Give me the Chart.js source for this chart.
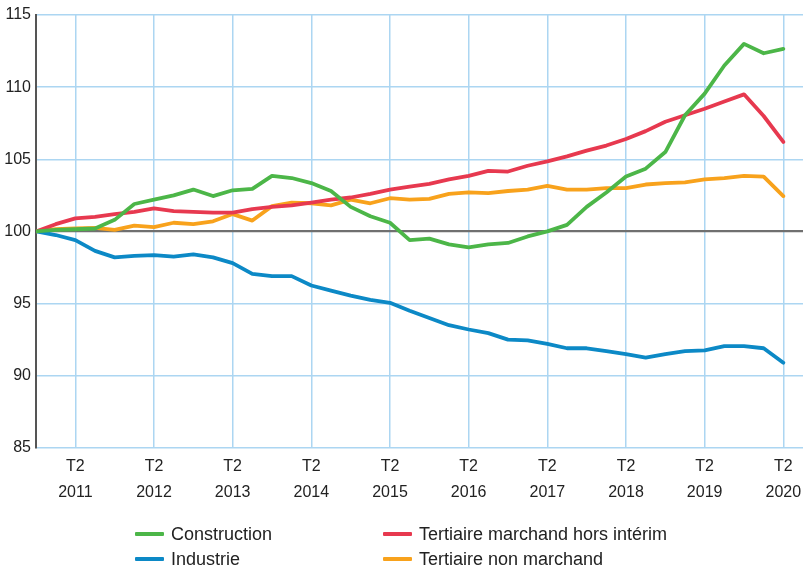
<!DOCTYPE html>
<html lang="fr">
<head>
<meta charset="utf-8">
<script src="https://cdn.jsdelivr.net/npm/chart.js@4.4.1/dist/chart.umd.min.js"></script>
<style>
    html, body { margin: 0; padding: 0; background: #fff; }
    .wrap { position: relative; width: 803px; height: 569px; }
    .legend { position: absolute; left: 0; top: 522px; width: 803px; height: 50px;
              font-family: 'Liberation Sans', Arial, sans-serif; font-size: 18px; color: #222; }
    .legend .item { position: absolute; display: flex; align-items: center; height: 24px; }
    .legend .swatch { width: 29px; height: 4px; margin-right: 7px; border-radius: 1px; }
</style>
</head>
<body>
<div class="wrap">
    <canvas id="emploiChart" width="803" height="569"></canvas>
    <div class="legend" id="legend"></div>
</div>

<script>
// quarters, base 100 at T4 2010
const quarters = [
    'T4 2010',
    'T1 2011', 'T2 2011', 'T3 2011', 'T4 2011',
    'T1 2012', 'T2 2012', 'T3 2012', 'T4 2012',
    'T1 2013', 'T2 2013', 'T3 2013', 'T4 2013',
    'T1 2014', 'T2 2014', 'T3 2014', 'T4 2014',
    'T1 2015', 'T2 2015', 'T3 2015', 'T4 2015',
    'T1 2016', 'T2 2016', 'T3 2016', 'T4 2016',
    'T1 2017', 'T2 2017', 'T3 2017', 'T4 2017',
    'T1 2018', 'T2 2018', 'T3 2018', 'T4 2018',
    'T1 2019', 'T2 2019', 'T3 2019', 'T4 2019',
    'T1 2020', 'T2 2020'
];
const tickYears = ['2011', '2012', '2013', '2014', '2015', '2016', '2017', '2018', '2019', '2020'];
const yTicks = [85, 90, 95, 100, 105, 110, 115];

const construction = [
    100.0, 100.1, 100.15, 100.2, 100.8, 101.9, 102.2, 102.5, 102.9, 102.45,
    102.85, 102.95, 103.85, 103.7, 103.35, 102.8, 101.7, 101.05, 100.6, 99.4,
    99.5, 99.1, 98.9, 99.1, 99.2, 99.65, 100.0, 100.45, 101.7, 102.7,
    103.8, 104.35, 105.5, 108.05, 109.55, 111.5, 113.0, 112.35, 112.65
];
const tertiaireMarchand = [
    100.0, 100.5, 100.9, 101.0, 101.2, 101.35, 101.6, 101.4, 101.35, 101.3,
    101.3, 101.55, 101.7, 101.8, 102.0, 102.2, 102.35, 102.6, 102.9, 103.1,
    103.3, 103.6, 103.85, 104.2, 104.15, 104.55, 104.85, 105.2, 105.6, 105.95,
    106.4, 106.95, 107.6, 108.05, 108.5, 109.0, 109.5, 108.0, 106.2
];
const industrie = [
    100.0, 99.75, 99.4, 98.65, 98.2, 98.3, 98.35, 98.25, 98.4, 98.2,
    97.8, 97.05, 96.9, 96.9, 96.25, 95.9, 95.55, 95.25, 95.05, 94.5,
    94.0, 93.5, 93.2, 92.95, 92.5, 92.45, 92.2, 91.9, 91.9, 91.7,
    91.5, 91.25, 91.5, 91.7, 91.75, 92.05, 92.05, 91.9, 90.9
];
const tertiaireNonMarchand = [
    100.0, 100.15, 100.2, 100.25, 100.1, 100.4, 100.3, 100.6, 100.5, 100.7,
    101.2, 100.75, 101.75, 102.0, 101.95, 101.8, 102.2, 101.95, 102.3, 102.2,
    102.25, 102.6, 102.7, 102.65, 102.8, 102.9, 103.15, 102.9, 102.9, 103.0,
    103.0, 103.25, 103.35, 103.4, 103.6, 103.7, 103.85, 103.8, 102.45
];

document.addEventListener('DOMContentLoaded', () => {
    const toPoints = arr => arr.map((v, i) => ({ x: i, y: v }));
    const tickPos = tickYears.map(y => quarters.indexOf('T2 ' + y));
    const tickFont = { family: "'Liberation Sans', Arial, sans-serif", size: 16, lineHeight: 1.6 };

    const mkLine = (label, data, color) => ({
        label: label,
        data: toPoints(data),
        borderColor: color,
        backgroundColor: color,
        borderWidth: 3.8,
        pointRadius: 0,
        tension: 0,
        borderJoinStyle: 'round',
        borderCapStyle: 'round'
    });

    const chart = new Chart(document.getElementById('emploiChart').getContext('2d'), {
        type: 'line',
        data: {
            datasets: [
                mkLine('Construction', construction, '#4cb648'),
                mkLine('Tertiaire marchand hors intérim', tertiaireMarchand, '#e7394f'),
                mkLine('Industrie', industrie, '#0c89c6'),
                mkLine('Tertiaire non marchand', tertiaireNonMarchand, '#f8a21c')
            ]
        },
        options: {
            responsive: false,
            animation: false,
            layout: { padding: { top: 15, right: 0, bottom: 58, left: 0 } },
            plugins: { legend: { display: false }, tooltip: { enabled: false } },
            scales: {
                x: {
                    type: 'linear',
                    min: 0, max: quarters.length,
                    afterBuildTicks: scale => { scale.ticks = tickPos.map(v => ({ value: v })); },
                    afterFit: scale => { scale.paddingRight = 0; scale.paddingLeft = 0; },
                    grid: { color: '#acd6f2', lineWidth: 1.5, drawTicks: false },
                    border: { display: false },
                    ticks: {
                        autoSkip: false, maxRotation: 0, padding: 6,
                        color: '#222', font: tickFont,
                        callback: value => ['T2', tickYears[tickPos.indexOf(value)]]
                    }
                },
                y: {
                    min: 85, max: 115,
                    afterBuildTicks: scale => { scale.ticks = yTicks.map(v => ({ value: v })); },
                    afterFit: scale => { scale.width = 36; },
                    grid: {
                        drawTicks: false,
                        color: c => c.tick && c.tick.value === 100 ? '#707070' : '#acd6f2',
                        lineWidth: c => c.tick && c.tick.value === 100 ? 2.2 : 1.5
                    },
                    border: { color: '#555', width: 2 },
                    ticks: {
                        padding: 5, color: '#222',
                        font: { family: "'Liberation Sans', Arial, sans-serif", size: 16 }
                    }
                }
            }
        }
    });

    // legend in two columns, built from the chart datasets
    const slots = [[135, 0], [383, 0], [135, 25], [383, 25]];
    const legend = document.getElementById('legend');
    chart.data.datasets.forEach((ds, i) => {
        const item = document.createElement('div');
        item.className = 'item';
        item.style.left = slots[i][0] + 'px';
        item.style.top = slots[i][1] + 'px';
        item.innerHTML = '<span class="swatch" style="background:' + ds.borderColor + '"></span><span>' + ds.label + '</span>';
        legend.appendChild(item);
    });
});
</script>
</body>
</html>
